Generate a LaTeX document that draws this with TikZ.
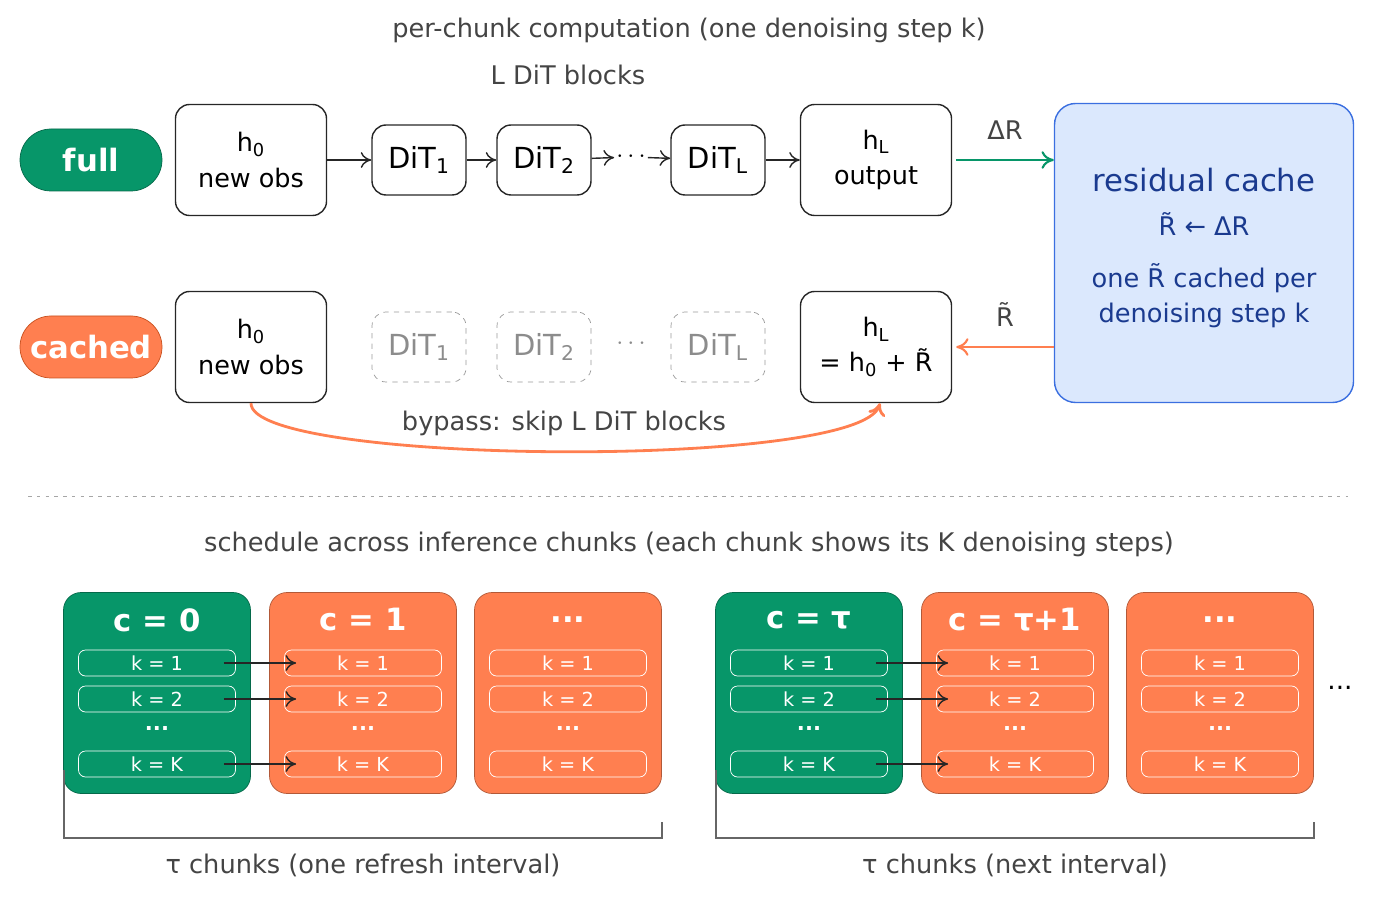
\documentclass[tikz,border=0pt]{standalone}
\usepackage{fontspec}
\setmainfont{DejaVu Sans}
\usetikzlibrary{arrows.meta}
\definecolor{fullgreen}{HTML}{079669}
\definecolor{cachedorange}{HTML}{FF7F50}
\definecolor{orangeedge}{HTML}{C8501E}
\definecolor{cacheblue}{HTML}{DBE8FD}
\definecolor{cacheedge}{HTML}{3B6FE0}
\definecolor{cachetext}{HTML}{1A3A8F}
\definecolor{labelgray}{HTML}{444444}
\tikzset{
  pill/.style={rounded corners=31*0.02cm, minimum width=142*0.02cm, minimum height=62*0.02cm, text=white, font=\fontsize{17.5}{19}\selectfont\bfseries},
  statebox/.style={draw=black!85, thick, rounded corners=8pt, fill=white, minimum width=151*0.02cm, minimum height=111*0.02cm, align=center, font=\fontsize{14.5}{20}\selectfont},
  ditbox/.style={draw=black!85, thick, rounded corners=8pt, minimum width=94*0.02cm, minimum height=70*0.02cm, font=\fontsize{16.5}{18}\selectfont},
  ghostbox/.style={draw=black!40, dashed, rounded corners=8pt, minimum width=94*0.02cm, minimum height=70*0.02cm, text=black!45, font=\fontsize{16.5}{18}\selectfont},
  chunkbox/.style={rounded corners=10pt, minimum width=187*0.02cm, minimum height=201*0.02cm},
  stepbox/.style={draw=white!70, rounded corners=4pt, minimum width=157*0.02cm, minimum height=26*0.02cm, text=white, font=\fontsize{11}{12}\selectfont, inner sep=0pt},
  caption/.style={text=labelgray, font=\fontsize{14.6}{16}\selectfont},
  arr/.style={-{To[length=6pt,width=9pt]}, thick, black!85}
}
\newcommand{\chunk}[4]{% name, x, colour, header
  \node[chunkbox, fill=#3, draw=#3!70!black] (#1) at (#2,693) {};
  \node[text=white, font=\fontsize{17.5}{19}\selectfont\bfseries] (#1head) at (#2,620) {#4};
  \node[stepbox] (#1k1) at (#2,663) {k = 1};
  \node[stepbox] (#1k2) at (#2,699) {k = 2};
  \node[text=white, font=\fontsize{12}{14}\selectfont\bfseries] (#1dots) at (#2,729) {...};
  \node[stepbox] (#1kK) at (#2,764) {k = K};
}
\begin{document}
\begin{tikzpicture}[x=0.02cm,y=-0.02cm]
  \useasboundingbox (0,0) rectangle (1378,901);

  % titles
  \node[caption] (title) at (689,30) {per-chunk computation (one denoising step k)};
  \node[caption] (blocks) at (568,75) {L DiT blocks};

  % full path
  \node[pill, fill=fullgreen, draw=fullgreen!70!black] (full) at (91,160) {full};
  \node[statebox] (h0a) at (251,160) {h\textsubscript{0}\\new obs};
  \node[ditbox] (d1a) at (419,160) {DiT\textsubscript{1}};
  \node[ditbox] (d2a) at (544,160) {DiT\textsubscript{2}};
  \node[ditbox] (dLa) at (718,160) {DiT\textsubscript{L}};
  \node[statebox] (hLa) at (876,160) {h\textsubscript{L}\\output};
  \node[inner sep=1pt, font=\fontsize{14}{16}\selectfont] (dotsa) at (631,157) {$\cdots$};
  \draw[arr] (h0a) -- (d1a);
  \draw[arr] (d1a) -- (d2a);
  \draw[arr] (d2a) -- (dotsa);
  \draw[arr] (dotsa) -- (dLa);
  \draw[arr] (dLa) -- (hLa);

  % cached path
  \node[pill, fill=cachedorange, draw=orangeedge] (cached) at (91,347) {cached};
  \node[statebox] (h0b) at (251,347) {h\textsubscript{0}\\new obs};
  \node[ghostbox] (d1b) at (419,347) {DiT\textsubscript{1}};
  \node[ghostbox] (d2b) at (544,347) {DiT\textsubscript{2}};
  \node[text=black!45, font=\fontsize{14}{16}\selectfont] (dotsb) at (631,344) {$\cdots$};
  \node[ghostbox] (dLb) at (718,347) {DiT\textsubscript{L}};
  \node[statebox] (hLb) at (876,347) {h\textsubscript{L}\\= h\textsubscript{0} + R̃};

  % residual cache
  \node[draw=cacheedge, thick, fill=cacheblue, rounded corners=12pt, minimum width=299*0.02cm, minimum height=299*0.02cm] (cache) at (1204,253) {};
  \node[text=cachetext, font=\fontsize{17.5}{19}\selectfont] (cachetitle) at (1204,180) {residual cache};
  \node[text=cachetext, font=\fontsize{14.6}{16}\selectfont] (cacheupd) at (1204,224) {R̃ ← ΔR};
  \node[text=cachetext, font=\fontsize{14.6}{20}\selectfont, align=center] (cachenote) at (1204,296) {one R̃ cached per\\denoising step k};

  \draw[-{To[length=7pt,width=10pt]}, very thick, fullgreen] (hLa.east) ++(4,0) coordinate (ga) -- (ga -| cache.west) node[midway, above=8pt, caption] {ΔR};
  \draw[-{To[length=7pt,width=10pt]}, very thick, cachedorange] (cache.west |- hLb) -- ([xshift=4*0.02cm]hLb.east) node[midway, above=8pt, caption] {R̃};
  \draw[-{To[length=7pt,width=10pt]}, line width=1.6pt, cachedorange] (h0b.south) .. controls (250,465) and (860,470) .. ([xshift=4*0.02cm]hLb.south);
  \node[caption] (bypass) at (564,423) {bypass: skip L DiT blocks};

  % separator
  \draw[black!35, dash pattern=on 2pt off 3pt] (28,496) -- (1348,496);

  % schedule
  \node[caption] (sched) at (689,544) {schedule across inference chunks (each chunk shows its K denoising steps)};
  \chunk{c0}{157}{fullgreen}{c = 0}
  \chunk{c1}{363}{cachedorange}{c = 1}
  \chunk{c2}{568}{cachedorange}{...}
  \chunk{c3}{809}{fullgreen}{c = τ}
  \chunk{c4}{1015}{cachedorange}{c = τ+1}
  \chunk{c5}{1220}{cachedorange}{...}
  \foreach \k in {k1,k2,kK} {
    \draw[arr] ([xshift=-12*0.02cm]c0\k.east) -- ([xshift=12*0.02cm]c1\k.west);
    \draw[arr] ([xshift=-12*0.02cm]c3\k.east) -- ([xshift=12*0.02cm]c4\k.west);
  }
  \node[font=\fontsize{15}{16}\selectfont] (more) at (1340,688) {...};

  % brackets
  \draw[black!60, thick] (64,770) -- (64,838) -- (662,838) -- (662,822);
  \draw[black!60, thick] (716,770) -- (716,838) -- (1314,838) -- (1314,822);
  \node[caption] (int1) at (363,865) {τ chunks (one refresh interval)};
  \node[caption] (int2) at (1015,865) {τ chunks (next interval)};
\end{tikzpicture}
\end{document}
